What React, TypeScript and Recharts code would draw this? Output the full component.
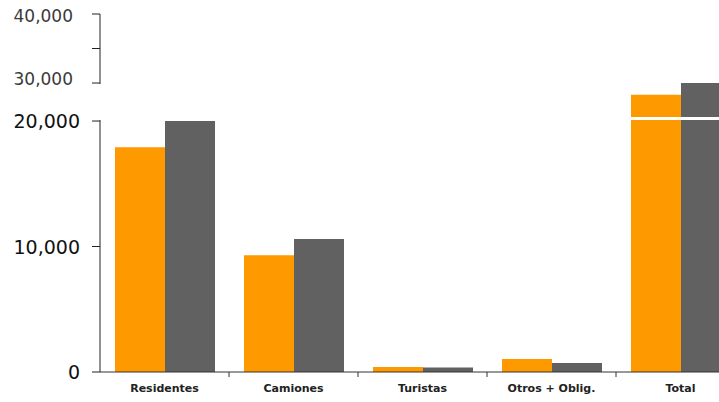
import { BarChart, Bar, XAxis, YAxis, ReferenceLine } from 'recharts'

const categories = ['Residentes', 'Camiones', 'Turistas', 'Otros + Oblig.', 'Total']
const seriesA = [17900, 9300, 400, 1040, 28300]
const seriesB = [20000, 10600, 350, 720, 30000]
const lowerTicks = [0, 10000, 20000]
const upperTicks = [30000, 35000, 40000]
const labelledTicks = [0, 10000, 20000, 30000, 40000]

// broken axis: 0-20k drawn as is, 30k-40k squeezed above the break
const LOWER_MAX = 20000
const UPPER_BASE = 23028
const UPPER_RATIO = 0.55
const BREAK_AT = 20200

const toAxis = (v: number) => (v <= LOWER_MAX ? v : UPPER_BASE + (v - 30000) * UPPER_RATIO)
const fromAxis = (t: number) => {
  const hit = [...lowerTicks, ...upperTicks].find((v) => Math.abs(toAxis(v) - t) < 1)
  return hit ?? t
}

const data = categories.map((name, i) => ({ name, a: toAxis(seriesA[i]), b: toAxis(seriesB[i]) }))
const yTicks = [...lowerTicks, ...upperTicks].map(toAxis)

const YTick = (props: any) => {
  const { x, y, payload } = props
  const v = fromAxis(payload.value)
  const upper = v > LOWER_MAX
  return (
    <g>
      {v === 30000 && <rect x={x + 6} y={y + 1} width={4} height={36} fill="#fff" />}
      {labelledTicks.includes(v) && (
        <text
          x={upper ? x - 19 : x - 12}
          y={upper ? (v === 30000 ? y - 4 : y + 2) : y}
          textAnchor="end"
          dominantBaseline="central"
          fontFamily="DejaVu Sans, Verdana, sans-serif"
          fontSize={upper ? 17 : 19}
          fill={upper ? '#3a3a3a' : '#111'}
        >
          {v.toLocaleString('en-US')}
        </text>
      )}
    </g>
  )
}

const XTick = (props: any) => {
  const { x, y, payload } = props
  return (
    <g>
      <line x1={x + 64.5} y1={y} x2={x + 64.5} y2={y + 5} stroke="#333" />
      <text
        x={x}
        y={y + 20}
        textAnchor="middle"
        fontFamily="DejaVu Sans, Verdana, sans-serif"
        fontWeight="bold"
        fontSize={11}
        fill="#222"
      >
        {payload.value}
      </text>
    </g>
  )
}

export default function App() {
  return (
    <div
      style={{
        position: 'fixed',
        left: 0,
        top: 0,
        width: 719,
        height: 402,
        overflow: 'hidden',
        background: '#fff',
      }}
    >
      <div style={{ position: 'absolute', left: 8, top: 0 }}>
        <BarChart
          width={737}
          height={402}
          data={data}
          margin={{ top: 14, right: 0, bottom: 0, left: 0 }}
          barCategoryGap={15}
          barGap={0}
        >
          <XAxis
            dataKey="name"
            height={30}
            tickLine={false}
            tickSize={0}
            tickMargin={0}
            tick={<XTick />}
            axisLine={{ stroke: '#333' }}
            interval={0}
          />
          <YAxis
            width={92}
            domain={[0, toAxis(40000)]}
            ticks={yTicks}
            interval={0}
            tickSize={8}
            tickMargin={0}
            tick={<YTick />}
            tickLine={{ stroke: '#222' }}
            axisLine={{ stroke: '#222' }}
            allowDataOverflow
          />
          <Bar dataKey="a" fill="#FF9900" isAnimationActive={false} />
          <Bar dataKey="b" fill="#616161" isAnimationActive={false} />
          <ReferenceLine y={BREAK_AT} stroke="#fff" strokeWidth={3} ifOverflow="visible" />
        </BarChart>
      </div>
    </div>
  )
}
